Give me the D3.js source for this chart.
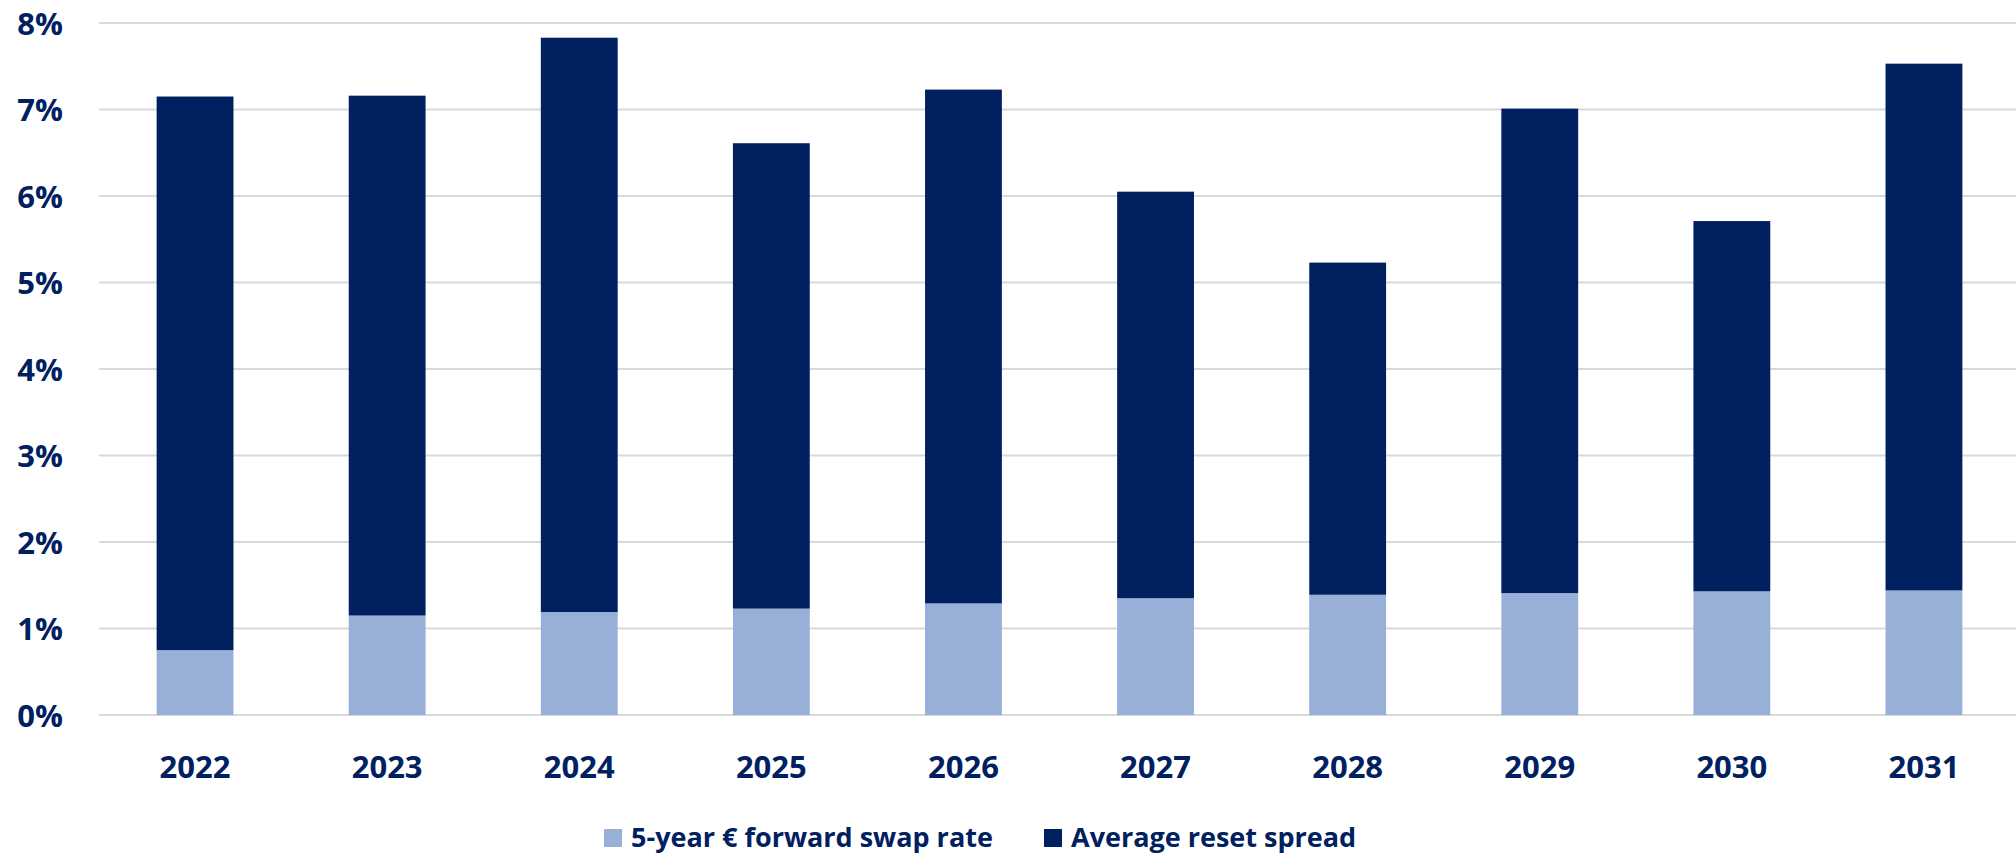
<!DOCTYPE html>
<html>
<head>
<meta charset="utf-8">
<script src="https://cdn.jsdelivr.net/npm/d3@7"></script>
<style>
    body { margin: 0; background: #ffffff; }
    text { font-family: 'Open Sans', sans-serif; font-weight: bold; fill: #002060; }
</style>
</head>
<body>
<div id="chart"></div>
<script>
const years = ['2022', '2023', '2024', '2025', '2026', '2027', '2028', '2029', '2030', '2031'];
const swap_rate = [0.75, 1.15, 1.19, 1.23, 1.29, 1.35, 1.39, 1.41, 1.43, 1.44];
const reset_spread = [6.40, 6.01, 6.64, 5.38, 5.94, 4.70, 3.84, 5.60, 4.28, 6.09];
const y_ticks = [0, 1, 2, 3, 4, 5, 6, 7, 8];
const series_names = ['5-year € forward swap rate', 'Average reset spread'];

function createChart(){
    const width = 2016;
    const height = 855;
    const left_margin = 99;
    const right_edge = 2020;
    const top_y = 23;
    const zero_y = 715;
    const colors = ['#98afd8', '#002060'];

    let svg = d3.select('#chart')
                .append('svg')
                .attr('width', width)
                .attr('height', height);

    let x = d3.scaleBand()
              .domain(years)
              .range([left_margin, right_edge])
              .paddingInner(0.6)
              .paddingOuter(0.3);

    let y = d3.scaleLinear()
              .domain([0, 8])
              .range([zero_y, top_y]);

    // gridlines
    svg.selectAll('line.grid')
       .data(y_ticks)
       .enter()
       .append('line')
       .attr('x1', left_margin)
       .attr('x2', width)
       .attr('y1', function(d){return y(d);})
       .attr('y2', function(d){return y(d);})
       .attr('stroke', '#d9d9d9')
       .attr('stroke-width', 2);

    let table = years.map(function(yr, i){
        return {year: yr, swap: swap_rate[i], spread: reset_spread[i]};
    });
    let stacked = d3.stack().keys(['swap', 'spread'])(table);

    stacked.forEach(function(layer, k){
        svg.selectAll('rect.layer' + k)
           .data(layer)
           .enter()
           .append('rect')
           .attr('x', function(d){return x(d.data.year);})
           .attr('width', x.bandwidth())
           .attr('y', function(d){return y(d[1]);})
           .attr('height', function(d){return y(d[0]) - y(d[1]);})
           .attr('fill', colors[k]);
    });

    // y axis labels
    let y_axis = svg.append('g')
                    .attr('transform', 'translate(63,0)')
                    .call(d3.axisLeft(y).tickValues(y_ticks).tickSize(0).tickPadding(0)
                            .tickFormat(function(d){return d + '%';}));
    y_axis.select('.domain').remove();
    y_axis.selectAll('text')
          .attr('fill', '#002060')
          .style('font-size', '31px')
          .attr('dy', '0.36em');

    // x axis labels
    let x_axis = svg.append('g')
                    .attr('transform', 'translate(0,' + zero_y + ')')
                    .call(d3.axisBottom(x).tickSize(0).tickPadding(0));
    x_axis.select('.domain').remove();
    x_axis.selectAll('text')
          .attr('fill', '#002060')
          .attr('y', 63)
          .attr('dy', 0)
          .style('font-size', '31px');

    // legend
    let legend = svg.append('g');
    let legend_x = [604, 1044];
    series_names.forEach(function(name, i){
        legend.append('rect')
              .attr('x', legend_x[i])
              .attr('y', 829)
              .attr('width', 18)
              .attr('height', 18)
              .attr('fill', colors[i]);
        legend.append('text')
              .attr('x', legend_x[i] + 27)
              .attr('y', 847)
              .style('font-size', '27px')
              .text(name);
    });
}

createChart();
</script>
</body>
</html>
